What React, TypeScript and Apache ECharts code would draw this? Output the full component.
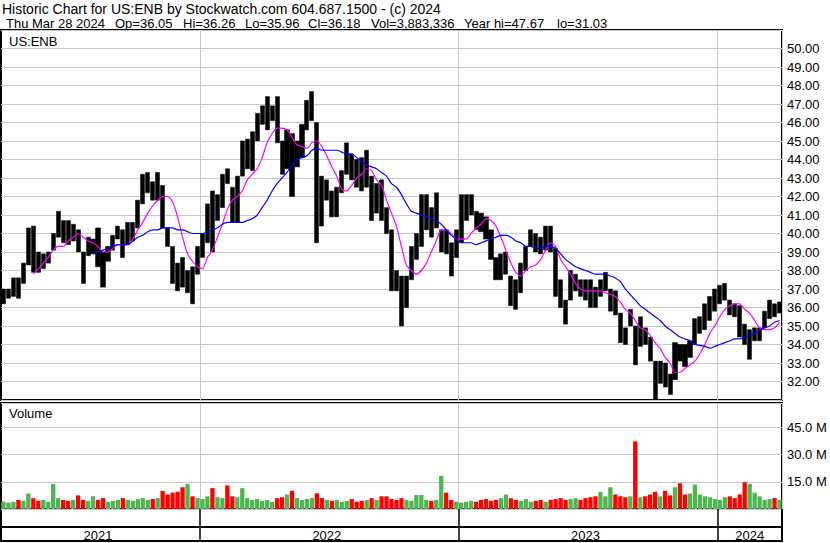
import React, { useEffect, useRef } from "react";
import * as echarts from "echarts";

// ---------- data (weekly) ----------
const START_YEAR = 2021;
const START_MONTH = 2; // March (0-based)
const START_DAY = 29;

const HIGH = [
  37.0, 37.0, 37.6, 37.6, 38.4, 40.3, 40.4, 39.0, 38.9, 39.0,
  40.0, 41.2, 40.7, 40.7, 40.5, 40.2, 39.0, 39.8, 39.7, 40.3,
  39.0, 39.3, 39.9, 40.4, 40.2, 40.6, 40.6, 41.8, 43.2, 43.3,
  42.8, 43.3, 42.6, 40.3, 39.3, 38.4, 38.7, 38.0, 38.2, 39.3,
  40.0, 41.6, 42.3, 42.1, 43.2, 43.5, 42.5, 43.1, 45.0, 45.1,
  45.5, 46.5, 46.9, 47.4, 46.9, 47.4, 45.0, 45.6, 45.4, 45.0,
  45.9, 47.2, 47.67, 46.0, 43.1, 42.9, 42.3, 42.5, 43.4, 44.9,
  44.3, 44.0, 44.1, 44.5, 43.1, 42.7, 42.9, 41.4, 40.2, 38.0,
  37.7, 37.7, 39.3, 40.0, 42.1, 42.1, 41.4, 42.2, 40.2, 40.2,
  39.5, 40.2, 42.1, 42.1, 42.1, 41.2, 41.1, 40.9, 40.2, 38.7,
  38.9, 39.0, 37.7, 37.5, 38.4, 39.3, 40.2, 40.0, 39.8, 40.4,
  40.4, 39.2, 37.5, 36.4, 38.0, 37.8, 37.5, 37.5, 37.5, 37.1,
  37.5, 37.9, 37.0, 36.9, 35.7, 34.9, 35.9, 35.0, 35.5, 34.9,
  34.4, 33.1, 33.1, 33.0, 32.4, 34.1, 34.0, 34.0, 34.2, 35.4,
  35.5, 36.2, 36.6, 37.0, 37.2, 37.3, 36.4, 36.2, 36.1, 35.1,
  34.8, 34.9, 34.9, 35.8, 36.4, 36.2, 36.3,
];

const LOW = [
  36.2, 36.5, 36.6, 36.5, 37.3, 38.3, 37.9, 37.9, 38.1, 38.4,
  39.1, 39.8, 39.5, 39.4, 39.6, 39.0, 37.3, 38.8, 38.9, 38.2,
  37.1, 38.5, 39.1, 39.7, 38.7, 39.4, 39.6, 40.3, 41.6, 42.2,
  41.8, 41.8, 40.3, 39.3, 37.3, 36.9, 37.1, 36.8, 36.2, 37.8,
  38.7, 39.5, 39.0, 40.7, 41.4, 42.7, 40.6, 40.6, 43.1, 43.5,
  43.4, 45.0, 45.9, 45.6, 46.1, 44.9, 43.2, 43.5, 42.0, 43.6,
  44.1, 45.6, 46.1, 39.5, 40.4, 41.8, 40.9, 40.9, 42.2, 43.2,
  42.9, 42.5, 42.3, 42.5, 40.7, 41.1, 40.7, 40.0, 36.9, 36.9,
  35.0, 36.0, 37.5, 38.6, 39.3, 40.2, 39.8, 40.3, 39.0, 38.9,
  37.7, 38.7, 39.5, 40.7, 41.0, 40.2, 40.1, 39.7, 38.6, 37.5,
  37.5, 37.8, 36.1, 35.9, 36.8, 38.0, 39.3, 39.0, 38.9, 39.1,
  39.0, 36.6, 36.0, 35.1, 36.4, 36.9, 36.6, 36.4, 36.0, 36.0,
  36.6, 36.9, 35.8, 35.6, 34.1, 34.0, 35.0, 32.9, 33.9, 34.0,
  33.1, 31.03, 31.9, 31.7, 31.3, 32.1, 33.1, 32.8, 33.3, 34.0,
  34.6, 34.8, 35.3, 35.8, 36.2, 36.4, 35.6, 35.5, 34.4, 34.0,
  33.2, 34.2, 34.2, 34.9, 35.4, 35.5, 35.7,
];

const MA_FAST = [
  null, null, null, null, null, null, 37.8, 38.1, 38.4, 38.7,
  39.1, 39.3, 39.3, 39.6, 39.8, 40.0, 39.8, 39.6, 39.5, 39.3,
  39.0, 39.0, 39.2, 39.4, 39.4, 39.4, 39.7, 40.2, 40.6, 41.1,
  41.5, 41.8, 42.0, 42.0, 41.7, 40.9, 39.8, 38.9, 38.5, 38.2,
  38.1, 38.7, 39.1, 39.8, 40.5, 41.3, 41.8, 42.0, 42.3, 42.9,
  43.2, 43.5, 44.1, 44.9, 45.4, 45.7, 45.7, 45.6, 45.2, 44.8,
  44.7, 44.6, 44.9, 45.0, 44.7, 44.2, 43.6, 43.1, 42.4, 42.3,
  42.6, 43.0, 43.2, 43.5, 43.4, 42.9, 42.6, 41.8, 41.1, 40.4,
  39.3, 38.3, 38.0, 37.8, 38.0, 38.4, 39.0, 39.6, 40.2, 40.2,
  40.0, 39.7, 39.7, 39.7, 40.0, 40.3, 40.5, 40.8, 40.7, 40.4,
  39.8, 39.1, 38.4, 37.9, 37.7, 38.0, 38.2, 38.3, 38.6, 39.1,
  39.5, 39.3, 38.6, 38.2, 37.8, 37.3, 37.0, 36.9, 36.9, 36.9,
  36.9, 36.8, 36.7, 36.6, 36.3, 35.9, 35.7, 35.3, 34.9, 34.8,
  34.5, 34.1, 33.8, 33.3, 33.0, 32.5, 32.5, 32.7, 32.9, 33.1,
  33.5, 34.0, 34.6, 35.0, 35.5, 35.9, 36.1, 36.2, 36.2, 35.9,
  35.7, 35.3, 34.9, 34.8, 34.8, 34.9, 35.2,
];

const MA_SLOW = [
  null, null, null, null, null, null, null, null, null, null,
  null, null, null, null, null, null, null, null, 38.9, 39.0,
  39.1, 39.2, 39.3, 39.4, 39.4, 39.4, 39.6, 39.8, 39.9, 40.1,
  40.2, 40.2, 40.3, 40.3, 40.3, 40.2, 40.2, 40.1, 40.0, 40.0,
  40.0, 40.1, 40.2, 40.3, 40.5, 40.6, 40.6, 40.6, 40.6, 40.7,
  40.8, 41.0, 41.4, 41.8, 42.3, 42.7, 43.0, 43.3, 43.7, 44.0,
  44.1, 44.2, 44.5, 44.6, 44.5, 44.5, 44.5, 44.5, 44.4, 44.3,
  44.3, 44.1, 43.9, 43.7, 43.6, 43.5, 43.3, 43.1, 42.7, 42.5,
  42.1, 41.6, 41.2, 41.1, 41.0, 40.9, 40.8, 40.7, 40.5, 40.2,
  39.9, 39.7, 39.5, 39.5, 39.5, 39.4, 39.5, 39.6, 39.7, 39.8,
  39.9, 39.9, 39.8, 39.6, 39.5, 39.3, 39.3, 39.2, 39.2, 39.3,
  39.3, 39.2, 38.9, 38.6, 38.4, 38.2, 38.1, 38.0, 37.9, 37.8,
  37.8, 37.8, 37.7, 37.6, 37.4, 37.0, 36.7, 36.4, 36.1, 35.9,
  35.7, 35.5, 35.3, 35.0, 34.8, 34.6, 34.4, 34.3, 34.2, 34.0,
  33.95, 33.9, 33.8, 33.9, 34.0, 34.1, 34.2, 34.3, 34.3, 34.4,
  34.5, 34.6, 34.8, 34.9, 35.0, 35.2, 35.3,
];

// volume in millions of shares
const VOLUME_M = [
  4, 3.5, 4, 5, 4.5, 8.5, 6, 4.5, 5, 4,
  13.8, 6, 5, 4.5, 5, 7.5, 5, 4.5, 7, 5,
  6, 4, 4.5, 5, 6, 5, 4.5, 5.5, 6, 5,
  5.5, 6, 10, 8, 9, 9.5, 12, 13.8, 7, 6,
  5.5, 7, 11.5, 6.5, 6, 13, 7, 6.5, 11.5, 6,
  5, 5.5, 4.5, 5, 4, 6, 6.5, 8, 10, 6,
  5, 5.5, 6, 8.7, 6, 5, 4.5, 5, 4, 4.5,
  5.5, 4, 4.5, 5, 6, 5, 7, 7, 5.5, 5,
  6, 5, 4.5, 7.7, 7.7, 5, 4.5, 5, 18.3, 9,
  5, 4, 3.5, 4, 4.5, 4, 5, 5.5, 4.5, 5,
  6, 8, 6, 5, 4.5, 5.5, 4, 4.5, 5, 4,
  5, 5.5, 6, 5, 5.5, 6, 5, 6, 6.5, 7,
  9.4, 7, 12, 8, 7, 6.5, 7, 37.3, 6.5, 7,
  8, 9.5, 7, 10, 7.5, 12, 14.2, 8, 8.5, 13.5,
  8, 7, 6.5, 5.5, 5, 6.5, 7, 6, 8, 14.8,
  13.8, 9, 7, 5, 5.5, 6, 5,
];
const UP_VOLUME_WEEKS = [10, 37, 48, 88, 122, 135, 139, 150];
const DOWN_VOLUME_WEEKS = [36, 42, 45, 127, 136, 149];

const SYMBOL = "US:ENB";
const TITLE = "Historic Chart for US:ENB by Stockwatch.com 604.687.1500 - (c) 2024";
const LAST_DATE = "Thu Mar 28 2024";
const DAY_OPEN = "36.05";
const DAY_HIGH = "36.26";
const DAY_LOW = "35.96";
const DAY_CLOSE = "36.18";
const DAY_VOLUME = "3,883,336";
const YEAR_HIGH = "47.67";
const YEAR_LOW = "31.03";
const VOLUME_TICKS = [15, 30, 45];

// ---------- derived ----------
const WEEKS = HIGH.map((_, i) => {
  const d = new Date(Date.UTC(START_YEAR, START_MONTH, START_DAY + 7 * i));
  return d.toISOString().slice(0, 10);
});
const YEAR_STARTS: number[] = [];
WEEKS.forEach((w, i) => {
  if (i > 0 && w.slice(0, 4) !== WEEKS[i - 1].slice(0, 4)) YEAR_STARTS.push(i);
});
const YEAR_LABEL_IDX: number[] = (() => {
  const bounds = [0, ...YEAR_STARTS, WEEKS.length];
  const out: number[] = [];
  for (let k = 0; k < bounds.length - 1; k++) out.push(Math.floor((bounds[k] + bounds[k + 1] - 1) / 2));
  return out;
})();

const FONT = "'Liberation Sans', Arial, sans-serif";
const GRID_GRAY = "#c8c8c8";
const RED = "#ff0000";
const GREEN = "#50b450";
const LEFT = 1;
const WIDTH = 781;

function volColor(i: number) {
  if (UP_VOLUME_WEEKS.includes(i)) return GREEN;
  if (DOWN_VOLUME_WEEKS.includes(i)) return RED;
  if (i === 0) return GREEN;
  const mid = (HIGH[i] + LOW[i]) / 2;
  const prev = (HIGH[i - 1] + LOW[i - 1]) / 2;
  return mid >= prev ? GREEN : RED;
}

function catAxis(gridIndex: number, sepColor: string, extra: any = {}) {
  return {
    type: "category",
    gridIndex,
    data: WEEKS,
    boundaryGap: true,
    axisLine: { show: false },
    axisTick: { show: false },
    axisLabel: { show: false },
    splitLine: {
      show: true,
      interval: (idx: number) => YEAR_STARTS.includes(idx),
      lineStyle: { color: sepColor, width: sepColor === "#000" ? 1.5 : 1 },
    },
    ...extra,
  };
}

function headerText(text: string, x: number, y: number, size = 13) {
  return {
    type: "text",
    x,
    y,
    silent: true,
    style: { text, fill: "#000", font: `${size}px ${FONT}`, verticalAlign: "middle", align: "left" },
  };
}

function buildOption(): any {
  return {
    animation: false,
    backgroundColor: "#ffffff",
    textStyle: { fontFamily: FONT },
    grid: [
      { left: LEFT, top: 30, width: WIDTH, height: 370, show: true, borderColor: "#000", borderWidth: 2, backgroundColor: "transparent" },
      { left: LEFT, top: 403, width: WIDTH, height: 106, show: true, borderColor: "#000", borderWidth: 2, backgroundColor: "transparent" },
      { left: LEFT, top: 509, width: WIDTH, height: 18, show: true, borderColor: "#000", borderWidth: 2, backgroundColor: "transparent" },
      { left: LEFT, top: 527, width: WIDTH, height: 14, show: true, borderColor: "#000", borderWidth: 2, backgroundColor: "transparent" },
    ],
    xAxis: [
      catAxis(0, GRID_GRAY),
      catAxis(1, GRID_GRAY),
      catAxis(2, "#000", {
        axisLabel: {
          show: true,
          interval: (idx: number) => YEAR_LABEL_IDX.includes(idx),
          formatter: (v: string) => v.slice(0, 4),
          margin: 2,
          fontSize: 13,
          color: "#000",
          fontFamily: FONT,
        },
      }),
      catAxis(3, "#000"),
    ],
    yAxis: [
      {
        type: "value",
        gridIndex: 0,
        position: "right",
        min: 31,
        max: 51,
        interval: 1,
        axisLine: { show: false },
        axisTick: { show: false },
        splitLine: { show: true, lineStyle: { color: GRID_GRAY, width: 1 } },
        axisLabel: {
          margin: 5,
          fontSize: 13,
          color: "#000",
          fontFamily: FONT,
          formatter: (v: number) => (v <= 31 || v >= 51 ? "" : v.toFixed(2)),
        },
      },
      {
        type: "value",
        gridIndex: 1,
        position: "right",
        min: 0,
        max: 58.5,
        interval: 15,
        axisLine: { show: false },
        axisTick: { show: false },
        splitLine: { show: true, lineStyle: { color: GRID_GRAY, width: 1 } },
        axisLabel: {
          margin: 5,
          fontSize: 13,
          color: "#000",
          fontFamily: FONT,
          formatter: (v: number) => (VOLUME_TICKS.includes(v) ? `${v.toFixed(1)} M` : ""),
        },
      },
      { type: "value", gridIndex: 2, show: false },
      { type: "value", gridIndex: 3, show: false },
    ],
    series: [
      {
        type: "candlestick",
        xAxisIndex: 0,
        yAxisIndex: 0,
        barWidth: 4.6,
        data: HIGH.map((h, i) => [LOW[i], h, LOW[i], h]),
        itemStyle: { color: "#000", color0: "#000", borderColor: "#000", borderColor0: "#000", borderWidth: 0.5 },
        z: 2,
      },
      {
        type: "line",
        xAxisIndex: 0,
        yAxisIndex: 0,
        data: MA_FAST,
        symbol: "none",
        showSymbol: false,
        smooth: 0.25,
        lineStyle: { color: "#ff00ff", width: 1.2 },
        z: 3,
      },
      {
        type: "line",
        xAxisIndex: 0,
        yAxisIndex: 0,
        data: MA_SLOW,
        symbol: "none",
        showSymbol: false,
        smooth: 0.25,
        lineStyle: { color: "#0000ff", width: 1.2 },
        z: 3,
      },
      {
        type: "bar",
        xAxisIndex: 1,
        yAxisIndex: 1,
        barWidth: 4.3,
        data: VOLUME_M.map((v, i) => ({ value: v, itemStyle: { color: volColor(i) } })),
      },
    ],
    graphic: [
      headerText(TITLE, 2, 9, 14),
      headerText(LAST_DATE, 6, 23.5),
      headerText(`Op=${DAY_OPEN}`, 115, 23.5),
      headerText(`Hi=${DAY_HIGH}`, 183, 23.5),
      headerText(`Lo=${DAY_LOW}`, 245, 23.5),
      headerText(`Cl=${DAY_CLOSE}`, 308, 23.5),
      headerText(`Vol=${DAY_VOLUME}`, 371, 23.5),
      headerText(`Year hi=${YEAR_HIGH}`, 464, 23.5),
      headerText(`lo=${YEAR_LOW}`, 557, 23.5),
      headerText(SYMBOL, 9, 41.5),
      headerText("Volume", 9, 413),
    ],
  };
}

export default function App() {
  const ref = useRef<HTMLDivElement>(null);
  useEffect(() => {
    document.body.style.margin = "0";
    if (!ref.current) return;
    const chart = echarts.init(ref.current, null, { renderer: "svg" });
    chart.setOption(buildOption());
    return () => chart.dispose();
  }, []);
  return <div ref={ref} style={{ width: 830, height: 543, background: "#fff" }} />;
}
